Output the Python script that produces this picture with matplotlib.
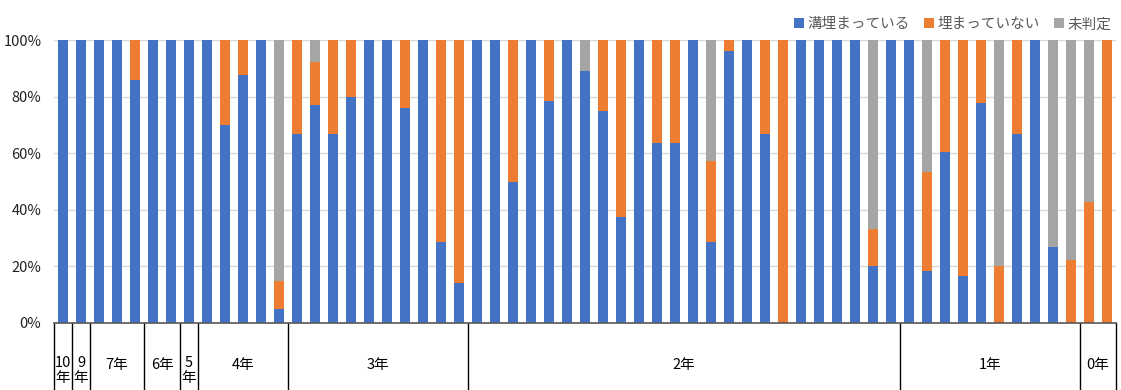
import matplotlib
matplotlib.use("Agg")
from matplotlib import pyplot as plt
import numpy as np

plt.rcParams['font.family'] = ['Noto Sans CJK JP', 'DejaVu Sans']

# 経過年数ごとのグループ
group_labels = ['10\n年', '9\n年', '7年', '6年', '5\n年', '4年', '3年', '2年', '1年', '0年']
group_sizes = [1, 1, 3, 2, 1, 5, 10, 24, 10, 2]

# 各地点の割合(%)
blue = [100, 100, 100, 100, 85.7, 100, 100, 100, 100, 70,
        87.5, 100, 5, 66.7, 76.9, 66.7, 80, 100, 100, 76,
        100, 28.6, 14.3, 100, 100, 50, 100, 78.3, 100, 88.9,
        75, 37.5, 100, 63.6, 63.6, 100, 28.6, 96, 100, 66.7,
        0, 100, 100, 100, 100, 20, 100, 100, 18.4, 60.6,
        16.7, 77.8, 0, 66.7, 100, 26.7, 0, 0, 0]
orange = [0, 0, 0, 0, 14.3, 0, 0, 0, 0, 30,
          12.5, 0, 10, 33.3, 15.4, 33.3, 20, 0, 0, 24,
          0, 71.4, 85.7, 0, 0, 50, 0, 21.7, 0, 0,
          25, 62.5, 0, 36.4, 36.4, 0, 28.6, 4, 0, 33.3,
          100, 0, 0, 0, 0, 13.3, 0, 0, 35.0, 39.4,
          83.3, 22.2, 20, 33.3, 0, 0, 22.2, 42.9, 100]
gray = [0, 0, 0, 0, 0, 0, 0, 0, 0, 0,
        0, 0, 85, 0, 7.7, 0, 0, 0, 0, 0,
        0, 0, 0, 0, 0, 0, 0, 0, 0, 11.1,
        0, 0, 0, 0, 0, 0, 42.9, 0, 0, 0,
        0, 0, 0, 0, 0, 66.7, 0, 0, 46.6, 0,
        0, 0, 80, 0, 0, 73.3, 77.8, 57.1, 0]

series_names = ['溝埋まっている', '埋まっていない', '未判定']
colors = ['#4472C4', '#ED7D31', '#A5A5A5']

fig = plt.figure(figsize=(11.21, 3.90), dpi=100)
ax = fig.add_axes([54 / 1121, 67 / 390, 1062 / 1121, 283 / 390])

x = np.arange(len(blue))
b = np.array(blue)
o = np.array(orange)
g = np.array(gray)
w = 0.6
ax.bar(x, b, w, color=colors[0], label=series_names[0])
ax.bar(x, o, w, bottom=b, color=colors[1], label=series_names[1])
ax.bar(x, g, w, bottom=b + o, color=colors[2], label=series_names[2])

ax.set_xlim(-0.5, len(blue) - 0.5)
ax.set_ylim(0, 100)
ax.set_yticks(range(0, 101, 20))
ax.set_yticklabels([f'{v}%' for v in range(0, 101, 20)], fontsize=10.5)
ax.set_xticks([])
ax.tick_params(axis='y', length=0, pad=9, labelcolor='#222222')
ax.yaxis.grid(True, color='#D9D9D9', linewidth=1)
ax.set_axisbelow(True)
for s in ['left', 'right', 'top']:
    ax.spines[s].set_visible(False)
ax.spines['bottom'].set_color('#595959')
ax.spines['bottom'].set_linewidth(1.2)

# 下の年数区切り
trans = ax.get_xaxis_transform()
edges = np.concatenate([[0], np.cumsum(group_sizes)]) - 0.5
for e in edges:
    ax.plot([e, e], [0, -0.25], transform=trans, color='black', lw=1, clip_on=False)
for i, lab in enumerate(group_labels):
    mid = (edges[i] + edges[i + 1]) / 2
    if '\n' in lab:
        # 幅の狭い区間は2行に折り返す
        ax.text(mid, -0.115, lab, transform=trans, ha='center', va='top',
                fontsize=10.5, linespacing=1.15)
    else:
        ax.text(mid, -0.148, lab, transform=trans, ha='center', va='center', fontsize=10.5)

leg = ax.legend(loc='lower right', bbox_to_anchor=(1.004, 1.0), ncol=3, frameon=False,
                handlelength=0.65, handleheight=0.65, handletextpad=0.25, columnspacing=1.0,
                fontsize=10.5, borderaxespad=0.2)
for t in leg.get_texts():
    t.set_color('#595959')

fig.savefig('out.png', dpi=100)
